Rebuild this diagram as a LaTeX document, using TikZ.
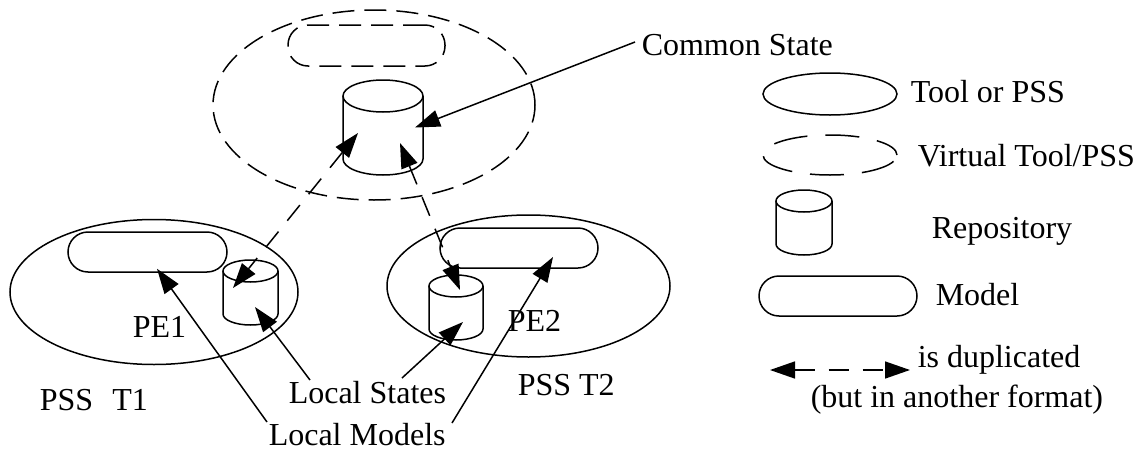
\documentclass[tikz,border=0pt]{standalone}
\usepackage{fontspec}
\setmainfont{Liberation Serif}
\usetikzlibrary{shapes.geometric,arrows.meta,calc}
\newcommand\mkrepo[6]{% name, cx, top centre y, bottom centre y, rx, ry
  \node[inner sep=0, draw=none, minimum width={#5*1pt}, minimum height={(#4-#3+2*#6)*0.5pt}] (#1) at (#2,{(#3+#4)/2}) {};
  \draw[fill=white] (#2-#5,#3) -- (#2-#5,#4) arc[start angle=180, end angle=360, x radius={#5*0.5pt}, y radius={#6*0.5pt}] -- (#2+#5,#3);
  \draw (#2,#3) ellipse [x radius={#5*0.5pt}, y radius={#6*0.5pt}];
}
\begin{document}
\begin{tikzpicture}[x=0.5pt,y=-0.5pt, line width=0.75pt,
  lbl/.style={anchor=base west, inner sep=0, font=\fontsize{16}{19}\selectfont},
  tool/.style={draw, ellipse, inner sep=0},
  vtool/.style={tool, dash pattern=on 11pt off 5pt},
  model/.style={draw, rectangle, rounded corners=10pt, inner sep=0},
  vmodel/.style={model, dash pattern=on 11pt off 5pt},
  ptr/.style={-{Triangle[length=12.5pt,width=8.5pt]}},
  dup/.style={{Triangle[length=12.5pt,width=8.5pt]}-{Triangle[length=12.5pt,width=8.5pt]}, dash pattern=on 10pt off 7pt}]
\useasboundingbox (0,0) rectangle (1137,450);

% virtual tool with common state
\node[vtool, minimum width=161pt, minimum height=95pt] (virt) at (374,105) {};
\node[vmodel, minimum width=78.5pt, minimum height=20.5pt] (vm) at (366.5,45.5) {};
\mkrepo{cc}{383}{96}{159}{40}{16}

% PSS T1
\node[tool, minimum width=144pt, minimum height=72.5pt] (pss1) at (154,292) {};
\node[model, minimum width=79.5pt, minimum height=20pt] (m1) at (147.5,252) {};
\mkrepo{r1}{250.5}{271}{314}{27.5}{11}

% PSS T2
\node[tool, minimum width=141.5pt, minimum height=71pt] (pss2) at (528.5,286) {};
\node[model, minimum width=79pt, minimum height=20pt] (m2) at (519,248) {};
\mkrepo{r2}{456}{286}{329}{27}{11}

% labels
\node[lbl] (cs) at (641,55) {Common State};
\node[lbl] (pe1) at (132,337) {PE1};
\node[lbl] (pe2) at (507,331) {PE2};
\node[lbl] (t1) at (39,410) {PSS\hspace{0.6em}T1};
\node[lbl] (t2) at (517,395) {PSS T2};
\node[lbl] (ls) at (288,403) {Local States};
\node[lbl] (lm) at (268,445) {Local Models};

% tails
\coordinate (csT) at (635,42);
\coordinate (ls1T) at (310,380);
\coordinate (ls2T) at (402,378);
\coordinate (lm1T) at (267,422);
\coordinate (lm2T) at (452,423);

% connectors
\draw[ptr] (csT) -- ($(cc.center)+(32,0)$);
\draw[dup] ($(cc.center)+(-25,5.5)$) -- ($(r1.center)+(-17.5,-4.5)$);
\draw[dup] ($(cc.center)+(17,15.5)$) -- ($(r2.center)+(4,-17.5)$);
\draw[ptr] (ls1T) -- ($(r1.center)+(4.5,14.5)$);
\draw[ptr] (ls2T) -- ($(r2.center)+(7,14.5)$);
\draw[ptr] (lm1T) -- ($(m1.south)+(9.5,-4)$);
\draw[ptr] (lm2T) -- ($(m2.center)+(34,9)$);

% legend
\node[tool, minimum width=67pt, minimum height=21pt] (lt) at (830,94) {};
\node[lbl] (ltl) at (910,102) {Tool or PSS};
\node[tool, dash pattern=on 17pt off 9pt, dash phase=4pt, minimum width=67pt, minimum height=20pt] (lv) at (830,155) {};
\node[lbl] (lvl) at (917,166) {Virtual Tool/PSS};
\mkrepo{lr}{804}{201}{244}{28}{11}
\node[lbl] (lrl) at (931,238) {Repository};
\node[model, minimum width=79pt, minimum height=20pt] (lm) at (838,296) {};
\node[lbl] (lml) at (935,305) {Model};
\coordinate (da) at (770,370);
\coordinate (db) at (910,370);
\draw[dup] (da) -- (db);
\node[lbl] (ldl) at (917,367) {is duplicated};
\node[lbl] (ldl2) at (810,407) {(but in another format)};
\end{tikzpicture}
\end{document}
